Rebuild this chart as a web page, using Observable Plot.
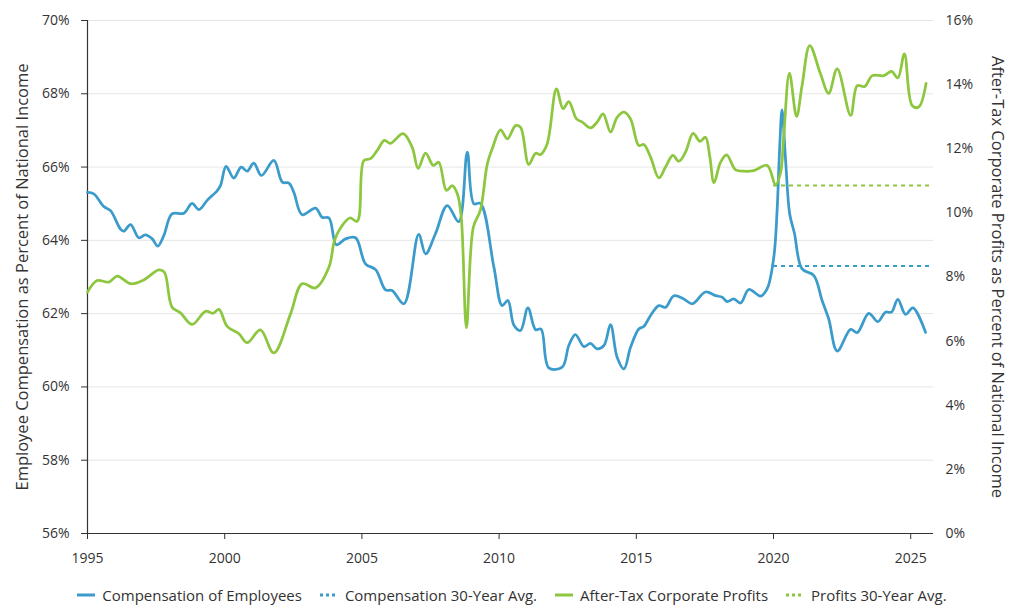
<!DOCTYPE html>
<html><head><meta charset="utf-8">
<script src="https://cdn.jsdelivr.net/npm/d3@7"></script>
<script src="https://cdn.jsdelivr.net/npm/@observablehq/plot@0.6"></script>
<style>
body{margin:0;background:#fff;font-family:"Open Sans",sans-serif;}
#legend{display:flex;justify-content:center;align-items:center;gap:18px;margin-top:10px;height:20px;font-size:15px;color:#333;}
#legend .item{display:flex;align-items:center;gap:7px;white-space:nowrap;}
</style></head><body>
<div id="chart"></div>
<div id="legend"></div>
<script>
// Compensation of employees, % of national income (left axis)
const compYears = [1995.0,1995.23,1995.6,1995.84,1996.2,1996.32,1996.57,1996.87,1997.11,1997.36,1997.56,1997.78,1998.08,1998.51,1998.81,1999.06,1999.36,1999.73,1999.85,2000.05,2000.33,2000.6,2000.82,2001.06,2001.34,2001.79,2002.1,2002.34,2002.52,2002.82,2003.31,2003.55,2003.8,2004.07,2004.4,2004.77,2005.13,2005.5,2005.86,2006.1,2006.53,2007.07,2007.32,2007.68,2008.11,2008.53,2008.84,2009.08,2009.32,2009.81,2010.11,2010.32,2010.54,2010.78,2011.05,2011.33,2011.53,2011.81,2012.3,2012.54,2012.78,2013.09,2013.33,2013.57,2013.82,2014.06,2014.3,2014.55,2014.79,2015.09,2015.27,2015.52,2015.82,2016.06,2016.37,2016.73,2017.04,2017.52,2017.89,2018.13,2018.31,2018.55,2018.8,2019.1,2019.53,2019.77,2020.01,2020.13,2020.23,2020.31,2020.44,2020.59,2020.76,2021.04,2021.47,2021.77,2022.01,2022.32,2022.81,2023.05,2023.47,2023.8,2024.08,2024.3,2024.53,2024.81,2025.08,2025.54];
const compValues = [65.31,65.27,64.92,64.81,64.31,64.25,64.43,64.07,64.15,64.04,63.84,64.13,64.72,64.74,65.01,64.84,65.09,65.36,65.50,66.02,65.70,66.0,65.89,66.11,65.77,66.18,65.59,65.56,65.31,64.70,64.88,64.63,64.61,63.88,64.04,64.07,63.36,63.20,62.65,62.63,62.27,64.16,63.63,64.18,64.95,64.51,66.41,65.0,65.01,63.27,62.22,62.36,61.68,61.54,62.16,61.56,61.58,60.52,60.54,61.13,61.43,61.10,61.19,61.04,61.13,61.70,60.81,60.49,61.08,61.58,61.65,61.95,62.22,62.17,62.49,62.40,62.27,62.59,62.49,62.45,62.33,62.40,62.29,62.66,62.48,62.68,63.54,64.81,66.63,67.56,66.18,64.72,64.2,63.22,63.04,62.36,61.86,60.98,61.57,61.48,62.01,61.78,62.04,62.04,62.39,61.98,62.16,61.49];

// After-tax corporate profits, % of national income (right axis)
const profitYears = [1995.0,1995.35,1995.78,1996.08,1996.57,1997.05,1997.6,1997.8,1998.08,1998.39,1998.81,1999.3,1999.58,1999.79,2000.09,2000.52,2000.82,2001.3,2001.79,2002.4,2002.82,2003.31,2003.8,2004.0,2004.22,2004.56,2004.83,2005.07,2005.31,2005.56,2005.82,2006.04,2006.5,2006.83,2007.05,2007.32,2007.6,2007.8,2008.08,2008.29,2008.48,2008.62,2008.81,2009.06,2009.32,2009.57,2009.75,2010.05,2010.3,2010.6,2010.78,2011.08,2011.33,2011.51,2011.75,2012.09,2012.33,2012.54,2012.82,2013.03,2013.33,2013.57,2013.79,2014.06,2014.3,2014.55,2014.79,2015.09,2015.27,2015.52,2015.82,2016.06,2016.33,2016.55,2016.79,2017.07,2017.32,2017.52,2017.68,2017.83,2018.07,2018.29,2018.62,2018.92,2019.28,2019.77,2020.07,2020.25,2020.37,2020.58,2020.84,2021.04,2021.32,2021.71,2022.01,2022.32,2022.81,2023.05,2023.32,2023.6,2024.02,2024.3,2024.53,2024.77,2025.05,2025.29,2025.56];
const profitValues = [7.53,7.89,7.84,8.03,7.79,7.91,8.22,8.15,7.06,6.88,6.52,6.93,6.87,6.99,6.46,6.23,5.95,6.35,5.63,6.85,7.79,7.66,8.31,9.14,9.53,9.84,9.74,11.63,11.69,11.95,12.26,12.17,12.47,12.05,11.39,11.86,11.48,11.58,10.70,10.85,10.59,9.87,6.42,9.55,10.09,11.53,12.0,12.59,12.31,12.72,12.67,11.51,11.86,11.82,12.15,13.87,13.25,13.47,12.93,12.83,12.65,12.83,13.09,12.52,12.98,13.14,12.93,12.10,12.13,11.74,11.09,11.42,11.79,11.61,11.89,12.48,12.23,12.36,11.74,10.94,11.58,11.81,11.34,11.30,11.32,11.48,10.88,11.22,12.36,14.36,13.01,13.97,15.22,14.34,13.73,14.49,13.04,13.97,13.94,14.28,14.28,14.41,14.21,14.96,13.35,13.30,14.04];

// 30-year averages (drawn from 2020 onward)
const compAvg = 63.3;
const profitAvg = 10.85;
const avgStart = 2020.0;

const leftTicks = [56,58,60,62,64,66,68,70];
const rightTicks = [0,2,4,6,8,10,12,14,16];
const xTicks = [1995,2000,2005,2010,2015,2020,2025];
const xDomain = [1995, 2025.83];
const leftDomain = [56, 70];
const rightDomain = [0, 16];

const seriesNames = ["Compensation of Employees","Compensation 30-Year Avg.","After-Tax Corporate Profits","Profits 30-Year Avg."];
const leftTitle = "Employee Compensation as Percent of National Income";
const rightTitle = "After-Tax Corporate Profits as Percent of National Income";

const BLUE = "#3b9bcb", GREEN = "#8dc63f", INK = "#333";

// map right-axis values onto left scale
const k = (leftDomain[1]-leftDomain[0])/(rightDomain[1]-rightDomain[0]);
const toL = v => leftDomain[0] + (v - rightDomain[0]) * k;
const fromL = v => rightDomain[0] + (v - leftDomain[0]) / k;

const comp = compYears.map((t,i)=>({t, v: compValues[i]}));
const prof = profitYears.map((t,i)=>({t, v: toL(profitValues[i])}));

const chart = Plot.plot({
  width: 1024, height: 575,
  marginTop: 20, marginBottom: 42, marginLeft: 87, marginRight: 91,
  style: {fontFamily: "'Open Sans', sans-serif", fontSize: "14px", color: INK, background: "#fff"},
  x: {domain: xDomain},
  y: {domain: leftDomain},
  marks: [
    Plot.gridY(leftTicks, {stroke: "#e6e6e6", strokeOpacity: 1, strokeWidth: 1}),
    Plot.axisY(leftTicks, {anchor: "left", tickSize: 6, tickPadding: 12, tickFormat: d => d + "%", label: null, stroke: INK, fill: INK, fontSize: 14}),
    Plot.axisY(rightTicks.map(toL), {anchor: "right", tickSize: 0, tickPadding: 12, tickFormat: d => Math.round(fromL(d)) + "%", label: null, fill: INK, fontSize: 14}),
    Plot.axisX(xTicks, {anchor: "bottom", tickSize: 6, tickPadding: 14, tickFormat: d => String(d), label: null, stroke: INK, fill: INK, fontSize: 14}),
    Plot.ruleX([xDomain[0]], {stroke: INK, strokeWidth: 1.2}),
    Plot.ruleY([leftDomain[0]], {stroke: INK, strokeWidth: 1.2}),
    Plot.ruleY([compAvg], {x1: avgStart, x2: xDomain[1], stroke: BLUE, strokeWidth: 2, strokeDasharray: "4,4"}),
    Plot.ruleY([toL(profitAvg)], {x1: avgStart, x2: xDomain[1], stroke: GREEN, strokeWidth: 2, strokeDasharray: "4,4"}),
    Plot.line(comp, {x: "t", y: "v", stroke: BLUE, strokeWidth: 2.75, curve: "catmull-rom"}),
    Plot.line(prof, {x: "t", y: "v", stroke: GREEN, strokeWidth: 2.75, curve: "catmull-rom"}),
    Plot.text([leftTitle], {frameAnchor: "left", textAnchor: "middle", lineAnchor: "middle", rotate: -90, dx: -65, fontSize: 16.5, fill: INK}),
    Plot.text([rightTitle], {frameAnchor: "right", textAnchor: "middle", lineAnchor: "middle", rotate: 90, dx: 64, fontSize: 16.5, fill: INK})
  ]
});
document.getElementById("chart").appendChild(chart);

const legend = document.getElementById("legend");
const swatches = [
  {c: BLUE, dash: null}, {c: BLUE, dash: "3,3"}, {c: GREEN, dash: null}, {c: GREEN, dash: "3,3"}
];
seriesNames.forEach((name, i) => {
  const s = swatches[i];
  const item = document.createElement("div");
  item.className = "item";
  item.innerHTML = `<svg width="18" height="10"><line x1="0" y1="5" x2="18" y2="5" stroke="${s.c}" stroke-width="3" ${s.dash ? `stroke-dasharray="${s.dash}"` : ""}/></svg><span>${name}</span>`;
  legend.appendChild(item);
});
</script></body></html>
